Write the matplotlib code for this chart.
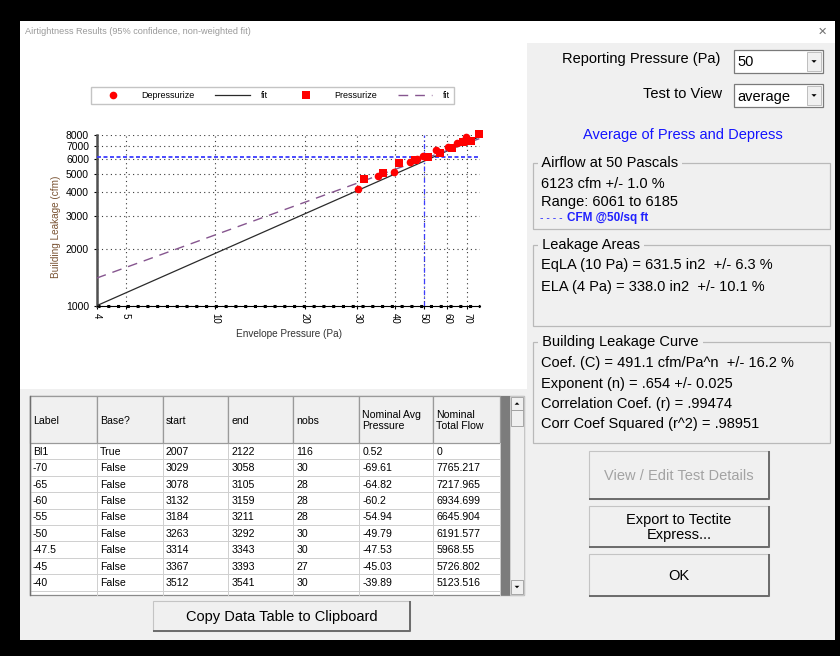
import matplotlib
matplotlib.use('Agg')
import matplotlib.pyplot as plt
import matplotlib.patches as mpatches
from matplotlib.ticker import FixedLocator, FixedFormatter, NullLocator

plt.rcParams['font.family'] = ['Liberation Sans', 'DejaVu Sans']

# ---- chart data ----
press_ticks = [4, 5, 10, 20, 30, 40, 50, 60, 70]
flow_ticks = [1000, 2000, 3000, 4000, 5000, 6000, 7000, 8000]

depress_pa = [69.61, 64.82, 60.2, 54.94, 49.79, 47.53, 45.03, 39.89, 35.2, 30.2]
depress_cfm = [7765.217, 7217.965, 6934.699, 6645.904, 6191.577, 5968.55, 5726.802, 5123.516, 4857, 4143]
press_pa = [31.6, 36.6, 41.3, 46.8, 51.9, 56.8, 62.1, 68.0, 72.1, 76.9]
press_cfm = [4699, 5015, 5666, 5900, 6143, 6400, 6805, 7375, 7464, 8098]

fit_pa = [4, 76.9]
depress_fit_cfm = [1000, 7830]
press_fit_cfm = [1400, 7650]

report_pa = 50
report_cfm = 6123

# ---- table data ----
col_labels = ['Label', 'Base?', 'start', 'end', 'nobs', 'Nominal Avg\nPressure', 'Nominal\nTotal Flow']
row_label = ['Bl1', '-70', '-65', '-60', '-55', '-50', '-47.5', '-45', '-40']
row_base = ['True', 'False', 'False', 'False', 'False', 'False', 'False', 'False', 'False']
row_start = ['2007', '3029', '3078', '3132', '3184', '3263', '3314', '3367', '3512']
row_end = ['2122', '3058', '3105', '3159', '3211', '3292', '3343', '3393', '3541']
row_nobs = ['116', '30', '28', '28', '28', '30', '30', '27', '30']
row_avg_p = ['0.52', '-69.61', '-64.82', '-60.2', '-54.94', '-49.79', '-47.53', '-45.03', '-39.89']
row_flow = ['0', '7765.217', '7217.965', '6934.699', '6645.904', '6191.577', '5968.55', '5726.802', '5123.516']

W, H = 840, 656
GREY = '#f0f0f0'

fig = plt.figure(figsize=(W / 100, H / 100), dpi=100)
fig.patch.set_facecolor('black')

ui = fig.add_axes([0, 0, 1, 1])
ui.set_xlim(0, W)
ui.set_ylim(H, 0)
ui.axis('off')


def rect(x0, y0, x1, y1, fc, ec='none', lw=0.8, z=1):
    ui.add_patch(mpatches.Rectangle((x0, y0), x1 - x0, y1 - y0, facecolor=fc,
                                    edgecolor=ec, linewidth=lw, zorder=z))


def arrow(cx, cy, up=False, size=3.0):
    s = -1 if up else 1
    tri = [(cx - size, cy - s * size / 2), (cx + size, cy - s * size / 2), (cx, cy + s * size / 2)]
    ui.add_patch(mpatches.Polygon(tri, closed=True, facecolor='black', edgecolor='none', zorder=4))


def combo(x0, y0, x1, y1, label):
    rect(x0, y0, x1, y1, 'white', '#7a7a7a', 0.9, z=2)
    rect(x1 - 16, y0 + 2, x1 - 2, y1 - 2, GREY, '#b5b5b5', 0.6, z=3)
    arrow(x1 - 9, (y0 + y1) / 2, size=2.6)
    ui.text(x0 + 3, (y0 + y1) / 2 + 1, label, fontsize=10.5, va='center', zorder=4)


def group(x0, y0, x1, y1, title):
    rect(x0, y0, x1, y1, 'none', '#b9b9b9', 0.9, z=2)
    ui.text(x0 + 5, y0, ' ' + title + ' ', fontsize=10.5, va='center', zorder=3,
            bbox=dict(facecolor=GREY, edgecolor='none', pad=0))


def button(x0, y0, x1, y1, label, color='black'):
    rect(x0, y0, x1, y1, GREY, '#c4c4c4', 0.8, z=2)
    ui.plot([x0, x1, x1], [y1, y1, y0], color='#6b6b6b', lw=1.4, zorder=3, solid_capstyle='butt')
    ui.text((x0 + x1) / 2, (y0 + y1) / 2 + 1, label, ha='center', va='center',
            fontsize=10.5, color=color, linespacing=1.15, zorder=4)


# window
rect(20, 21, 835, 640, GREY, z=0)
rect(20, 21, 835, 43, 'white', z=0.5)
rect(20, 43, 527, 389, 'white', z=0.5)
ui.text(25, 31.5, 'Airtightness Results (95% confidence, non-weighted fit)', fontsize=6.6,
        color='#9a9a9a', va='center')
ui.text(822, 31.5, '\u2715', fontsize=8, color='#707070', ha='center', va='center',
        family='DejaVu Sans')

# right panel
ui.text(720, 59, 'Reporting Pressure (Pa)', ha='right', va='center', fontsize=10.5)
combo(734, 50, 823, 73, '50')
ui.text(722, 94, 'Test to View', ha='right', va='center', fontsize=10.5)
combo(734, 84, 823, 107, 'average')
ui.text(683, 135, 'Average of Press and Depress', ha='center', va='center', fontsize=10.5,
        color='#1414ff')

group(533, 163, 830, 229, 'Airflow at 50 Pascals')
ui.text(541, 184, '6123 cfm +/- 1.0 %', va='center', fontsize=10.5)
ui.text(541, 202, 'Range: 6061 to 6185', va='center', fontsize=10.5)
ui.text(540, 218, '- - - -', va='center', fontsize=7.5, color='#2020ff')
ui.text(567, 218, 'CFM @50/sq ft', va='center', fontsize=8.5, color='#2020ff', fontweight='bold')

group(533, 245, 830, 326, 'Leakage Areas')
ui.text(541, 265, 'EqLA (10 Pa) = 631.5 in2  +/- 6.3 %', va='center', fontsize=10.5)
ui.text(541, 287, 'ELA (4 Pa) = 338.0 in2  +/- 10.1 %', va='center', fontsize=10.5)

group(533, 342, 830, 443, 'Building Leakage Curve')
curve_lines = ['Coef. (C) = 491.1 cfm/Pa^n  +/- 16.2 %', 'Exponent (n) = .654 +/- 0.025',
               'Correlation Coef. (r) = .99474', 'Corr Coef Squared (r^2) = .98951']
for i, s in enumerate(curve_lines):
    ui.text(541, 363.5 + i * 20.3, s, va='center', fontsize=10.5)

button(589, 451, 769, 499, 'View / Edit Test Details', color='#a3a3a3')
button(589, 506, 769, 547, 'Export to Tectite\nExpress...')
button(589, 554, 769, 596, 'OK')
button(153, 601, 410, 631, 'Copy Data Table to Clipboard')

# data table
col_x = [30, 96.7, 162.7, 228.3, 293.3, 359.3, 433.3, 500]
head_top, head_bot, tab_bot = 396, 443, 595
row_h = 16.4
rect(30, head_top, 524, tab_bot, 'white', '#8a8a8a', 0.9, z=1)
rect(500, head_top, 510, tab_bot, '#7c7c7c', z=2)
rect(510, head_top, 524, tab_bot, GREY, '#c8c8c8', 0.6, z=2)
rect(511, head_top + 1, 523, head_top + 14, GREY, '#9a9a9a', 0.6, z=3)
rect(511, head_top + 14, 523, head_top + 30, GREY, '#9a9a9a', 0.6, z=3)
rect(511, tab_bot - 15, 523, tab_bot - 1, GREY, '#9a9a9a', 0.6, z=3)
arrow(517, head_top + 7.5, up=True, size=2.4)
arrow(517, tab_bot - 8, size=2.4)

columns = [row_label, row_base, row_start, row_end, row_nobs, row_avg_p, row_flow]
for j, name in enumerate(col_labels):
    x0, x1 = col_x[j], col_x[j + 1]
    rect(x0, head_top, x1, head_bot, GREY, '#9a9a9a', 0.9, z=2)
    ui.text(x0 + 3, (head_top + head_bot) / 2 + 1, name, va='center', fontsize=7.6,
            linespacing=1.15, zorder=3)
    for i, val in enumerate(columns[j]):
        ui.text(x0 + 3, head_bot + (i + 0.5) * row_h + 0.5, val, va='center', fontsize=7.6, zorder=3)
    ui.plot([x1, x1], [head_bot, tab_bot], color='#cfcfcf', lw=0.7, zorder=2)
for i in range(len(row_label)):
    y = head_bot + (i + 1) * row_h
    ui.plot([30, 500], [y, y], color='#cfcfcf', lw=0.7, zorder=2)
ui.plot([30, 30], [head_top, tab_bot], color='#6f6f6f', lw=1.0, zorder=3)

# ---- the chart ----
x_left, x_right, y_bot, y_top = 96.7, 480, 305.7, 135
ax = fig.add_axes([x_left / W, 1 - y_bot / H, (x_right - x_left) / W, (y_bot - y_top) / H])
ax.patch.set_alpha(0)
ax.set_xscale('log')
ax.set_yscale('log')
ax.set_xlim(4, 77.3)
ax.set_ylim(1000, 8000)

ax.grid(True, which='major', color='#3a3a3a', linestyle=(0, (1, 3)), lw=0.8)
ax.axhline(report_cfm, color='#3c3cff', lw=1.3, dashes=(2.2, 1.4), zorder=3)
ax.axvline(report_pa, color='#3c3cff', lw=0.9, dashes=(4, 2, 1, 2), zorder=3)

fit_d, = ax.plot(fit_pa, depress_fit_cfm, color='#2a2a2a', lw=0.9, zorder=4)
fit_p, = ax.plot(fit_pa, press_fit_cfm, color='#86568f', lw=1.0, dashes=(7, 5), zorder=4)
pts_d, = ax.plot(depress_pa, depress_cfm, 'o', color='#ff0000', ms=5.5, mew=0, clip_on=False, zorder=5)
pts_p, = ax.plot(press_pa, press_cfm, 's', color='#ff0000', ms=5.2, mew=0, clip_on=False, zorder=5)

ax.xaxis.set_major_locator(FixedLocator(press_ticks))
ax.xaxis.set_major_formatter(FixedFormatter([str(t) for t in press_ticks]))
ax.xaxis.set_minor_locator(NullLocator())
ax.yaxis.set_major_locator(FixedLocator(flow_ticks))
ax.yaxis.set_major_formatter(FixedFormatter([str(t) for t in flow_ticks]))
ax.yaxis.set_minor_locator(NullLocator())
ax.tick_params(axis='x', labelsize=7, labelrotation=270, length=2.5, pad=2.5, width=0.8)
ax.tick_params(axis='y', labelsize=7.5, length=2.5, pad=3, width=0.8)

for side in ('top', 'right'):
    ax.spines[side].set_visible(False)
ax.spines['left'].set_color('#505050')
ax.spines['left'].set_linewidth(1.8)
ax.spines['bottom'].set_color('black')
ax.spines['bottom'].set_linewidth(0.8)
ax.axhline(1000, color='black', lw=2.2, ls=(0, (1, 2.2)), clip_on=False, zorder=2)

ax.set_xlabel('Envelope Pressure (Pa)', fontsize=7.2, color='#333333')
ax.xaxis.set_label_coords(0.502, -0.135)
ax.set_ylabel('Building Leakage (cfm)', fontsize=7.2, color='#7a5434')
ax.yaxis.set_label_coords(-0.092, 0.461)

ax.legend([pts_d, fit_d, pts_p, fit_p], ['Depressurize', 'fit', 'Pressurize', 'fit'],
          ncol=4, loc='center', bbox_to_anchor=(272.8 / W, 1 - 95.7 / H),
          bbox_transform=fig.transFigure, fontsize=6.5, frameon=True, fancybox=False,
          edgecolor='#c4c4c4', framealpha=1, handlelength=3.85, handletextpad=1.2,
          columnspacing=2.3, borderpad=0.45, borderaxespad=0)

fig.savefig('out.png', dpi=100, facecolor=fig.get_facecolor())
